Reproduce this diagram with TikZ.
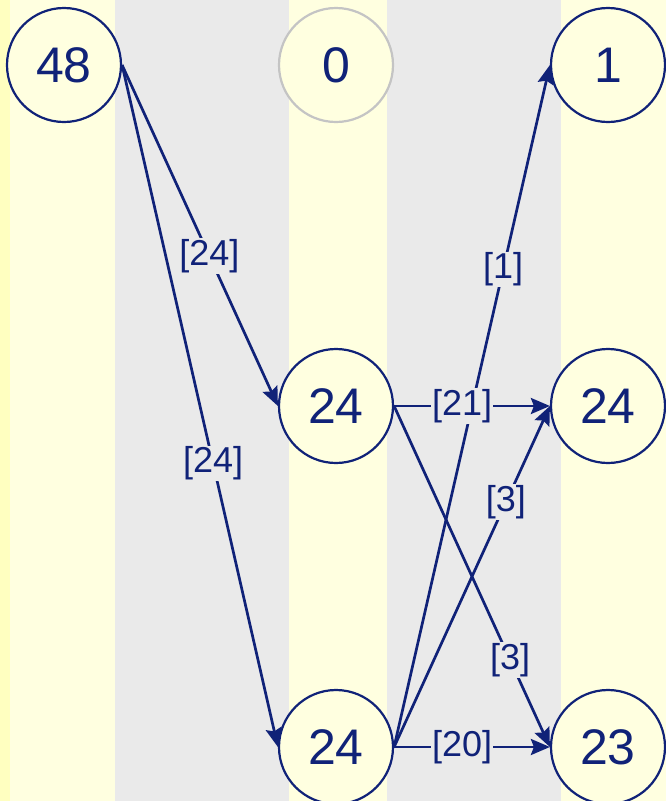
\documentclass[tikz,border=0pt]{standalone}
\usepackage{fontspec}
\setmainfont{Liberation Sans}
\usetikzlibrary{arrows.meta}
\definecolor{ink}{RGB}{16,34,120}
\definecolor{bgY}{RGB}{255,255,224}
\definecolor{bgYd}{RGB}{255,255,192}
\definecolor{bgG}{RGB}{234,234,234}
\definecolor{ringgray}{RGB}{196,196,196}
\begin{document}
\begin{tikzpicture}[x=1pt,y=-1pt,
  state/.style={circle,draw=ink,line width=2.2pt,fill=bgY,minimum size=114pt,inner sep=0pt,text=ink,font=\fontsize{50}{50}\selectfont},
  flow/.style={draw=ink,line width=2.7pt,-{Stealth[length=19pt,width=16pt,inset=3pt]}},
  lab/.style={fill=bgG,text=ink,inner sep=1pt,font=\fontsize{36}{36}\selectfont}]
\useasboundingbox (0,0) rectangle (666,801);
\fill[bgY] (0,0) rectangle (115,801);
\fill[bgYd] (0,0) rectangle (10,801);
\fill[bgG] (115,0) rectangle (289,801);
\fill[bgY] (289,0) rectangle (387,801);
\fill[bgG] (387,0) rectangle (561,801);
\fill[bgY] (561,0) rectangle (666,801);

\node[state] (a) at (64,65) {48};
\node[state,draw=ringgray] (b) at (336,65) {0};
\node[state] (c) at (608,65) {1};
\node[state] (d) at (336,406) {24};
\node[state] (e) at (608,406) {24};
\node[state] (f) at (336,747) {24};
\node[state] (g) at (608,747) {23};

\draw[flow] (a.east) -- (d.west);
\draw[flow] (a.east) -- (f.west);
\draw[flow] (d.east) -- (e.west);
\draw[flow] (d.east) -- (g.west);
\draw[flow] (f.east) -- (c.west);
\draw[flow] (f.east) -- (e.west);
\draw[flow] (f.east) -- (g.west);

\path (a.east) -- (d.west) node[lab,pos=0.56] {[24]};
\path (a.east) -- (f.west) node[lab,pos=0.584] {[24]};
\path (d.east) -- (e.west) node[lab,pos=0.436] {[21]};
\path (d.east) -- (g.west) node[lab,pos=0.745] {[3]};
\path (f.east) -- (c.west) node[lab,pos=0.70] {[1]};
\path (f.east) -- (e.west) node[lab,pos=0.718] {[3]};
\path (f.east) -- (g.west) node[lab,pos=0.436] {[20]};
\end{tikzpicture}
\end{document}
